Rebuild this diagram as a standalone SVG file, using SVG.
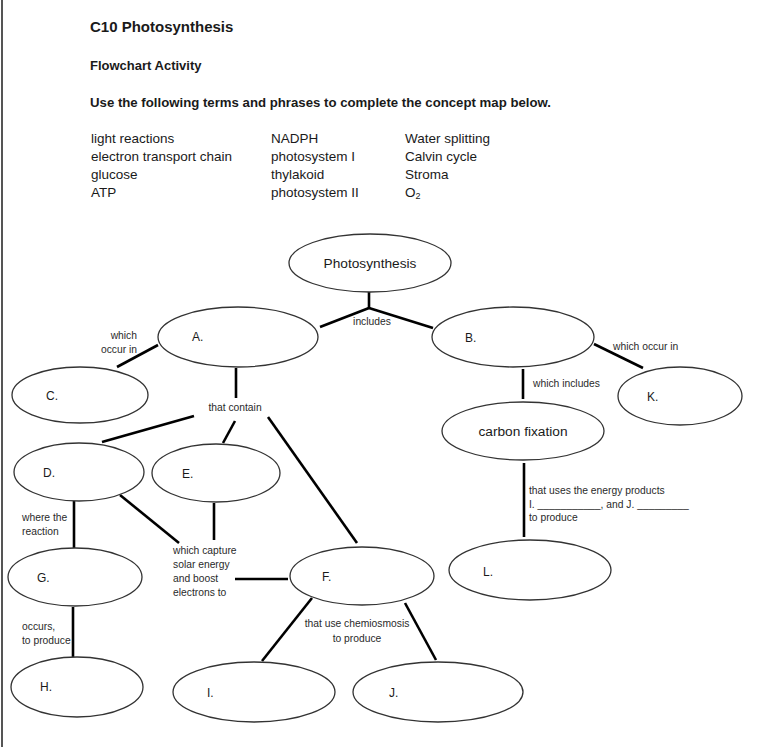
<svg xmlns="http://www.w3.org/2000/svg" width="766" height="747" viewBox="0 0 766 747">
<style>
text{font-family:"Liberation Sans",Arial,sans-serif;fill:#1a1a1a}
.h{font-weight:bold}
.t{font-size:13.5px}
.n{font-size:13.7px}
.l{font-size:12px}
.s{font-size:10.3px;fill:#2a2a2a}
ellipse{fill:#fff;stroke:#333;stroke-width:1.3}
#connectors line{stroke:#000;stroke-width:2.6;stroke-linecap:butt}
</style>
<rect width="766" height="747" fill="#fff"/>
<line x1="2" y1="0" x2="2" y2="747" stroke="#555" stroke-width="2"/>
<g id="header">
<text x="90" y="32" class="h" font-size="15">C10 Photosynthesis</text>
<text x="90" y="70" class="h" font-size="13">Flowchart Activity</text>
<text x="90" y="107" class="h" font-size="13" textLength="461" lengthAdjust="spacingAndGlyphs">Use the following terms and phrases to complete the concept map below.</text>
<text x="91" y="143" class="t">light reactions</text>
<text x="91" y="161" class="t">electron transport chain</text>
<text x="91" y="179" class="t">glucose</text>
<text x="91" y="197" class="t">ATP</text>
<text x="271" y="143" class="t">NADPH</text>
<text x="271" y="161" class="t">photosystem I</text>
<text x="271" y="179" class="t">thylakoid</text>
<text x="271" y="197" class="t">photosystem II</text>
<text x="405" y="143" class="t">Water splitting</text>
<text x="405" y="161" class="t">Calvin cycle</text>
<text x="405" y="179" class="t">Stroma</text>
<text x="405" y="197" class="t">O<tspan font-size="9" dy="2">2</tspan></text>
</g>
<g id="connectors">
<line x1="369" y1="292" x2="369" y2="308"/>
<line x1="369" y1="308" x2="320" y2="327"/>
<line x1="369" y1="308" x2="433" y2="328"/>
<line x1="158" y1="345" x2="117" y2="367"/>
<line x1="236" y1="368" x2="236" y2="398"/>
<line x1="194" y1="416" x2="102" y2="442"/>
<line x1="235" y1="421" x2="223" y2="443"/>
<line x1="268" y1="417" x2="357" y2="543"/>
<line x1="74" y1="501" x2="74" y2="548"/>
<line x1="120" y1="495" x2="179" y2="543"/>
<line x1="214" y1="503" x2="214" y2="540"/>
<line x1="235" y1="579" x2="288" y2="579"/>
<line x1="73" y1="607" x2="73" y2="657"/>
<line x1="312" y1="598" x2="262" y2="661"/>
<line x1="405" y1="603" x2="436" y2="660"/>
<line x1="594" y1="344" x2="643" y2="368"/>
<line x1="523" y1="369" x2="523" y2="399"/>
<line x1="524" y1="463" x2="524" y2="537"/>
</g>
<g id="connector-labels">
<text x="372" y="325" class="s" text-anchor="middle">includes</text>
<text x="137" y="339" class="s" text-anchor="end">which</text>
<text x="137" y="353" class="s" text-anchor="end">occur in</text>
<text x="235" y="411" class="s" text-anchor="middle">that contain</text>
<text x="613" y="350" class="s">which occur in</text>
<text x="533" y="387" class="s">which includes</text>
<text x="529" y="494" class="s">that uses the energy products</text>
<text x="529" y="508" class="s">I. ___________, and J. _________</text>
<text x="529" y="521" class="s">to produce</text>
<text x="22" y="521" class="s">where the</text>
<text x="22" y="535" class="s">reaction</text>
<text x="173" y="554" class="s">which capture</text>
<text x="173" y="568" class="s">solar energy</text>
<text x="173" y="582" class="s">and boost</text>
<text x="173" y="596" class="s">electrons to</text>
<text x="22" y="630" class="s">occurs,</text>
<text x="22" y="644" class="s">to produce</text>
<text x="357" y="627" class="s" text-anchor="middle">that use chemiosmosis</text>
<text x="357" y="642" class="s" text-anchor="middle">to produce</text>
</g>
<g id="node-photosynthesis"><ellipse cx="370" cy="263" rx="81" ry="29"/><text x="370" y="268" class="n" text-anchor="middle">Photosynthesis</text></g>
<g id="node-A"><ellipse cx="238" cy="337" rx="80" ry="30"/><text x="192" y="341" class="l">A.</text></g>
<g id="node-B"><ellipse cx="513" cy="337" rx="81" ry="30"/><text x="465" y="342" class="l">B.</text></g>
<g id="node-C"><ellipse cx="80" cy="395" rx="68" ry="28"/><text x="46" y="400" class="l">C.</text></g>
<g id="node-K"><ellipse cx="680" cy="396" rx="62" ry="29"/><text x="647" y="401" class="l">K.</text></g>
<g id="node-carbon"><ellipse cx="523" cy="431" rx="81" ry="29"/><text x="523" y="436" class="n" text-anchor="middle">carbon fixation</text></g>
<g id="node-D"><ellipse cx="79" cy="472" rx="65" ry="29"/><text x="43" y="477" class="l">D.</text></g>
<g id="node-E"><ellipse cx="216" cy="473" rx="64" ry="29"/><text x="182" y="478" class="l">E.</text></g>
<g id="node-G"><ellipse cx="75" cy="577" rx="67" ry="29"/><text x="37" y="582" class="l">G.</text></g>
<g id="node-F"><ellipse cx="362" cy="576" rx="72" ry="29"/><text x="322" y="581" class="l">F.</text></g>
<g id="node-L"><ellipse cx="530" cy="570" rx="81" ry="30"/><text x="483" y="576" class="l">L.</text></g>
<g id="node-H"><ellipse cx="77" cy="687" rx="66" ry="30"/><text x="40" y="691" class="l">H.</text></g>
<g id="node-I"><ellipse cx="254" cy="692" rx="81" ry="30"/><text x="207" y="697" class="l">I.</text></g>
<g id="node-J"><ellipse cx="438" cy="692" rx="85" ry="30"/><text x="389" y="697" class="l">J.</text></g>
</svg>
